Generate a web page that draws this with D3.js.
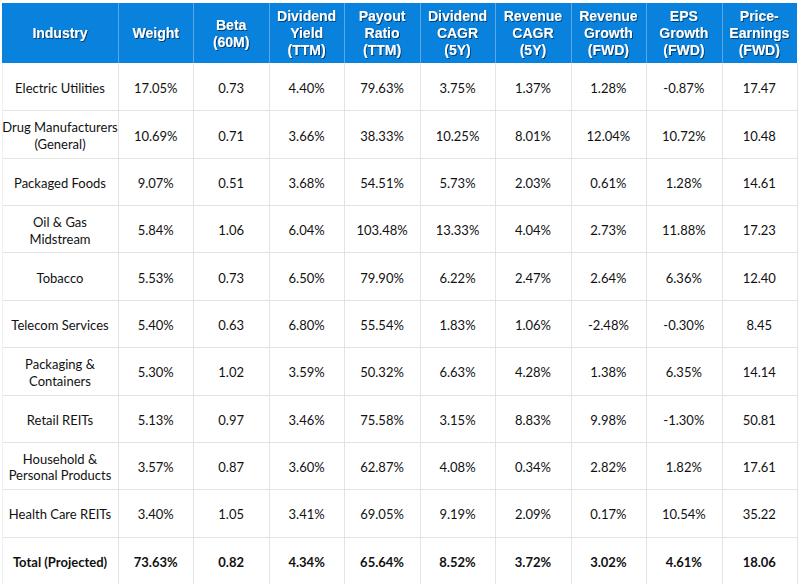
<!DOCTYPE html>
<html><head><meta charset="utf-8">
<script src="https://cdn.jsdelivr.net/npm/d3@7"></script>
<style>html,body{margin:0;padding:0;background:#fff;overflow:hidden}</style>
</head><body>
<svg id="chart" width="801" height="584"></svg>
<script>
const headers = ["Industry","Weight","Beta\n(60M)","Dividend\nYield\n(TTM)","Payout\nRatio\n(TTM)","Dividend\nCAGR\n(5Y)","Revenue\nCAGR\n(5Y)","Revenue\nGrowth\n(FWD)","EPS\nGrowth\n(FWD)","Price-\nEarnings\n(FWD)"];
const industries = ["Electric Utilities","Drug Manufacturers\n(General)","Packaged Foods","Oil & Gas\nMidstream","Tobacco","Telecom Services","Packaging &\nContainers","Retail REITs","Household &\nPersonal Products","Health Care REITs","Total (Projected)"];
const weight    = [17.05,10.69,9.07,5.84,5.53,5.40,5.30,5.13,3.57,3.40,73.63];
const beta      = [0.73,0.71,0.51,1.06,0.73,0.63,1.02,0.97,0.87,1.05,0.82];
const divYield  = [4.40,3.66,3.68,6.04,6.50,6.80,3.59,3.46,3.60,3.41,4.34];
const payout    = [79.63,38.33,54.51,103.48,79.90,55.54,50.32,75.58,62.87,69.05,65.64];
const divCagr   = [3.75,10.25,5.73,13.33,6.22,1.83,6.63,3.15,4.08,9.19,8.52];
const revCagr   = [1.37,8.01,2.03,4.04,2.47,1.06,4.28,8.83,0.34,2.09,3.72];
const revGrowth = [1.28,12.04,0.61,2.73,2.64,-2.48,1.38,9.98,2.82,0.17,3.02];
const epsGrowth = [-0.87,10.72,1.28,11.88,6.36,-0.30,6.35,-1.30,1.82,10.54,4.61];
const pe        = [17.47,10.48,14.61,17.23,12.40,8.45,14.14,50.81,17.61,35.22,18.06];

const pct = v => v.toFixed(2) + "%";
const num = v => v.toFixed(2);
const columns = [
  {vals: industries, fmt: v => v},
  {vals: weight, fmt: pct},
  {vals: beta, fmt: num},
  {vals: divYield, fmt: pct},
  {vals: payout, fmt: pct},
  {vals: divCagr, fmt: pct},
  {vals: revCagr, fmt: pct},
  {vals: revGrowth, fmt: pct},
  {vals: epsGrowth, fmt: pct},
  {vals: pe, fmt: num}
];

// layout
const L = 2, R = 797, T = 3, headH = 60, B = 584;
const firstW = 116;
const svg = d3.select("#chart");
const defs = svg.append("defs");
const f = defs.append("filter").attr("id","sh").attr("x","-10%").attr("y","-20%").attr("width","130%").attr("height","150%");
f.append("feDropShadow").attr("dx",1).attr("dy",1).attr("stdDeviation",0.7).attr("flood-color","#00264d").attr("flood-opacity",0.75);

const colIdx = d3.range(columns.length);
const xRest = d3.scaleBand().domain(colIdx.slice(1)).range([L + firstW, R]);
const x0 = i => i === 0 ? L : xRest(i);
const xw = i => i === 0 ? firstW : xRest.bandwidth();
const y = d3.scaleBand().domain(d3.range(industries.length)).range([T + headH, B]);

// header
svg.append("rect").attr("x",L).attr("y",T).attr("width",R-L).attr("height",headH).attr("fill","#0882dc");
svg.append("g").selectAll("line").data(colIdx.slice(1)).join("line")
  .attr("x1",d=>Math.round(x0(d))+0.5).attr("x2",d=>Math.round(x0(d))+0.5).attr("y1",T).attr("y2",T+headH)
  .attr("stroke","#5aa8e8").attr("stroke-width",1);

const hg = svg.append("g").attr("font-family","Arial, 'Liberation Sans', sans-serif").attr("font-weight","bold")
  .attr("font-size","14px").attr("fill","#fff").attr("text-anchor","middle").attr("filter","url(#sh)");
headers.forEach((h,i)=>{
  const lines = h.split("\n");
  const cy = T + headH/2;
  const t = hg.append("text");
  lines.forEach((ln,k)=>{
    t.append("tspan").attr("x", x0(i)+xw(i)/2).attr("y", cy + (k-(lines.length-1)/2)*17).attr("dy","0.36em").text(ln);
  });
});

// body grid
const rows = d3.range(industries.length);
svg.append("g").selectAll("line").data(rows.slice(1)).join("line")
  .attr("x1",L).attr("x2",R+1).attr("y1",d=>Math.round(y(d))+0.5).attr("y2",d=>Math.round(y(d))+0.5)
  .attr("stroke","#e3e3e3");
svg.append("g").selectAll("line").data(colIdx.slice(1).concat([columns.length])).join("line")
  .attr("x1",d=>Math.round(d<columns.length?x0(d):R)+0.5).attr("x2",d=>Math.round(d<columns.length?x0(d):R)+0.5)
  .attr("y1",T+headH).attr("y2",B)
  .attr("stroke","#e3e3e3");
svg.append("line").attr("x1",L+0.5).attr("x2",L+0.5).attr("y1",T+headH).attr("y2",B).attr("stroke","#f0f0f0");

// body text
const bg = svg.append("g").attr("font-family","Lato, 'Open Sans', sans-serif").attr("font-size","13px")
  .attr("fill","#111").attr("text-anchor","middle");
columns.forEach((c,i)=>{
  c.vals.forEach((v,r)=>{
    const s = c.fmt(v);
    const lines = s.split("\n");
    const cy = y(r) + y.bandwidth()/2 + 1.8;
    const t = bg.append("text").attr("font-weight", r === industries.length-1 ? "bold" : "normal");
    lines.forEach((ln,k)=>{
      t.append("tspan").attr("x", x0(i)+xw(i)/2).attr("y", cy + (k-(lines.length-1)/2)*16.5).attr("dy","0.36em").text(ln);
    });
  });
});
</script>
</body></html>
